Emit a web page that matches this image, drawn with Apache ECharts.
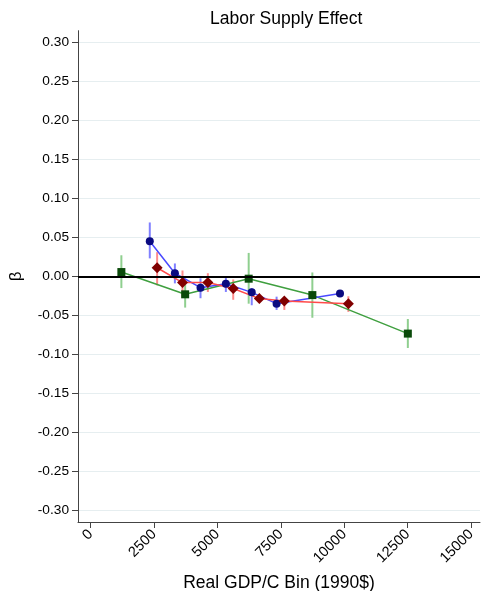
<!DOCTYPE html>
<html>
<head>
<meta charset="utf-8">
<script src="https://cdn.jsdelivr.net/npm/echarts@6/dist/echarts.min.js"></script>
<style>html,body{margin:0;padding:0;background:#fff}#c{width:481px;height:591px}</style>
</head>
<body>
<div id="c"></div>
<script>
var xTicks = [0, 2500, 5000, 7500, 10000, 12500, 15000];
var yTicks = [-0.30, -0.25, -0.20, -0.15, -0.10, -0.05, 0.00, 0.05, 0.10, 0.15, 0.20, 0.25, 0.30];

var blueX  = [2330, 3320, 4330, 5330, 6350, 7330, 9830];
var blueY  = [0.045, 0.004, -0.0145, -0.0095, -0.0205, -0.035, -0.022];
var blueLo = [0.023, -0.009, -0.028, -0.020, -0.037, -0.043, -0.025];
var blueHi = [0.069, 0.0165, -0.0025, 0.000, -0.015, -0.026, -0.019];

var redX  = [2620, 3620, 4620, 5620, 6650, 7635, 10160];
var redY  = [0.011, -0.008, -0.008, -0.0155, -0.0285, -0.0315, -0.035];
var redLo = [-0.0115, -0.026, -0.020, -0.030, -0.033, -0.043, -0.0455];
var redHi = [0.031, 0.0075, 0.004, -0.004, -0.024, -0.027, -0.0255];

var greenX  = [1210, 3725, 6230, 8740, 12505];
var greenY  = [0.0055, -0.023, -0.003, -0.024, -0.0733];
var greenLo = [-0.015, -0.040, -0.035, -0.053, -0.0917];
var greenHi = [0.027, -0.0073, 0.030, 0.005, -0.0546];

var FONT = 'Liberation Sans, Arial, Helvetica, sans-serif';

function zip2(a, b) { return a.map(function (v, i) { return [v, b[i]]; }); }
function zip3(a, b, c) { return a.map(function (v, i) { return [v, b[i], c[i]]; }); }

function errSeries(x, lo, hi, color) {
  return {
    type: 'custom',
    z: 2,
    silent: true,
    data: zip3(x, lo, hi),
    encode: { x: 0, y: [1, 2] },
    renderItem: function (params, api) {
      var p1 = api.coord([api.value(0), api.value(1)]);
      var p2 = api.coord([api.value(0), api.value(2)]);
      return {
        type: 'line',
        shape: { x1: p1[0], y1: p1[1], x2: p2[0], y2: p2[1] },
        style: { stroke: color, lineWidth: 2 }
      };
    }
  };
}

function lineSeries(x, y, lineColor, markColor, symbol, size) {
  return {
    type: 'line',
    z: 3,
    data: zip2(x, y),
    symbol: symbol,
    symbolSize: size,
    showAllSymbol: true,
    lineStyle: { color: lineColor, width: 1.5 },
    itemStyle: { color: markColor, borderWidth: 0 },
    emphasis: { disabled: true },
    animation: false
  };
}

var chart = echarts.init(document.getElementById('c'), null, { renderer: 'canvas' });
var zeroSeries = {
  type: 'line',
  data: [],
  z: 1,
  markLine: {
    silent: true,
    symbol: ['none', 'none'],
    label: { show: false },
    lineStyle: { color: '#000', width: 2, type: 'solid' },
    data: [{ yAxis: 0 }],
    animation: false
  }
};

chart.setOption({
  animation: false,
  backgroundColor: '#fff',
  title: {
    text: 'Labor Supply Effect',
    left: 205,
    top: 5,
    textStyle: { fontFamily: FONT, fontSize: 17.5, fontWeight: 'normal', color: '#000' }
  },
  grid: { left: 78, right: 1, top: 30.7, bottom: 69, outerBoundsMode: 'none', containLabel: false },
  xAxis: {
    type: 'value',
    min: -500,
    max: 15350,
    name: 'Real GDP/C Bin (1990$)',
    nameLocation: 'middle',
    nameGap: 52,
    nameTextStyle: { fontFamily: FONT, fontSize: 17.5, color: '#000' },
    axisLine: { show: true, onZero: false, lineStyle: { color: '#444', width: 1 } },
    axisTick: { show: true, length: 6, customValues: xTicks, lineStyle: { color: '#444' } },
    axisLabel: {
      customValues: xTicks, rotate: 45, margin: 10, fontFamily: FONT, fontSize: 14.5, color: '#000',
      formatter: function (v) { return String(v); }
    },
    splitLine: { show: false }
  },
  yAxis: {
    type: 'value',
    min: -0.3145,
    max: 0.3145,
    name: 'β',
    nameLocation: 'middle',
    nameGap: 53,
    nameRotate: 90,
    nameTextStyle: { fontFamily: FONT, fontSize: 17, color: '#000' },
    axisLine: { show: true, onZero: false, lineStyle: { color: '#444', width: 1 } },
    axisTick: { show: true, length: 6, customValues: yTicks, lineStyle: { color: '#444' } },
    axisLabel: {
      customValues: yTicks, margin: 9, fontFamily: FONT, fontSize: 13.7, color: '#000',
      formatter: function (v) { return v.toFixed(2); }
    },
    splitLine: { show: true, customValues: yTicks, lineStyle: { color: '#e6eef0', width: 1 } }
  },
  series: [
    zeroSeries,
    errSeries(greenX, greenLo, greenHi, '#8fcf8f'),
    errSeries(blueX, blueLo, blueHi, '#8080ff'),
    errSeries(redX, redLo, redHi, '#ff8c8c'),
    lineSeries(greenX, greenY, '#3f9f3f', '#0a4a0a', 'rect', 8),
    lineSeries(blueX, blueY, '#4a4aff', '#0a0a80', 'circle', 8),
    lineSeries(redX, redY, '#ff4a4a', '#800000', 'diamond', 11)
  ]
});
</script>
</body>
</html>
